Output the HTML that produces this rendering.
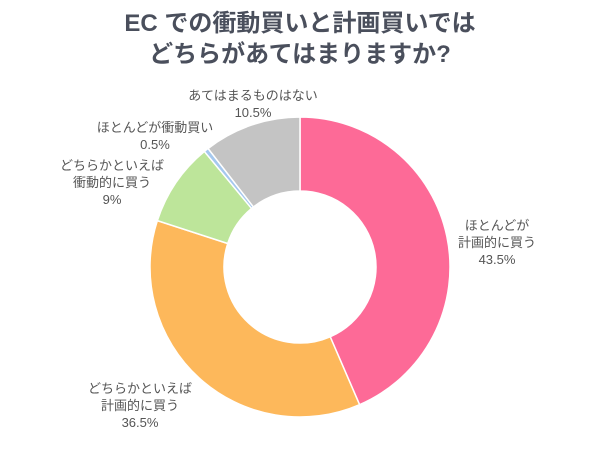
<!DOCTYPE html><html><head><meta charset="utf-8"><style>
body{margin:0;width:600px;height:450px;background:#fff;overflow:hidden}
svg text{font-family:"Liberation Sans","Noto Sans CJK JP",sans-serif}
</style></head><body>
<svg width="600" height="450" viewBox="0 0 600 450">
<text x="300" y="31" text-anchor="middle" font-size="24" font-weight="bold" fill="#4a4f5c">EC での衝動買いと計画買いでは</text>
<text x="300" y="62" text-anchor="middle" font-size="24" font-weight="bold" fill="#4a4f5c">どちらがあてはまりますか?</text>
<g stroke="#fff" stroke-width="1.5">
<path d="M300,117 A150,150 0 0 1 359.57,404.67 L330.18,336.75 A76,76 0 0 0 300,191 Z" fill="#fd6a97"/>
<path d="M359.57,404.67 A150,150 0 0 1 157.34,220.65 L227.72,243.52 A76,76 0 0 0 330.18,336.75 Z" fill="#fdb85b"/>
<path d="M157.34,220.65 A150,150 0 0 1 204.39,151.43 L251.56,208.44 A76,76 0 0 0 227.72,243.52 Z" fill="#bde59a"/>
<path d="M204.39,151.43 A150,150 0 0 1 208.07,148.47 L253.42,206.95 A76,76 0 0 0 251.56,208.44 Z" fill="#a5c8ee"/>
<path d="M208.07,148.47 A150,150 0 0 1 300,117 L300,191 A76,76 0 0 0 253.42,206.95 Z" fill="#c4c4c4"/>
</g>
<g font-size="13" fill="#555" text-anchor="middle">
<text x="253" y="100">あてはまるものはない</text><text x="253" y="117">10.5%</text>
<text x="155" y="132">ほとんどが衝動買い</text><text x="155" y="149">0.5%</text>
<text x="112" y="170">どちらかといえば</text><text x="112" y="187">衝動的に買う</text><text x="112" y="204">9%</text>
<text x="497" y="230">ほとんどが</text><text x="497" y="247">計画的に買う</text><text x="497" y="264">43.5%</text>
<text x="140" y="393">どちらかといえば</text><text x="140" y="410">計画的に買う</text><text x="140" y="427">36.5%</text>
</g>
</svg></body></html>
